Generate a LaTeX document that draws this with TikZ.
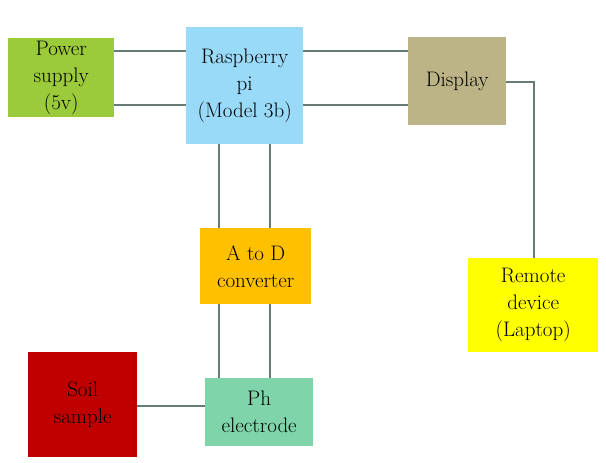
\documentclass[tikz,border=0pt]{standalone}
\usepackage{tikz}
\definecolor{cpower}{HTML}{9BCB3B}
\definecolor{crasp}{HTML}{99DAF9}
\definecolor{cdisp}{HTML}{BCB486}
\definecolor{cadc}{HTML}{FFC000}
\definecolor{cremote}{HTML}{FFFF00}
\definecolor{csoil}{HTML}{C00000}
\definecolor{cph}{HTML}{7FD5A9}
\definecolor{cline}{HTML}{667A76}
\tikzset{
  blk/.style={fill=#1, draw=none, inner sep=0pt, align=center, anchor=north west,
    font=\fontsize{21}{27}\selectfont},
  conn/.style={draw=cline, line width=1.4pt}
}
\begin{document}
\begin{tikzpicture}[x=1pt,y=-1pt]
\useasboundingbox (0,0) rectangle (606,463);
\node[blk=cpower, minimum width=106pt, minimum height=79pt] (pw) at (8,38) {Power\\supply\\(5v)};
\node[blk=crasp, minimum width=117pt, minimum height=117pt] (rp) at (186,27) {Raspberry\\pi\\(Model 3b)};
\node[blk=cdisp, minimum width=98pt, minimum height=88pt] (dp) at (408,37) {Display};
\node[blk=cadc, minimum width=111pt, minimum height=76pt] (ad) at (200,228) {A to D\\converter};
\node[blk=cremote, minimum width=130pt, minimum height=94pt] (rm) at (468,258) {Remote\\device\\(Laptop)};
\node[blk=csoil, minimum width=109pt, minimum height=105pt] (sl) at (28,352) {Soil\\sample};
\node[blk=cph, minimum width=108pt, minimum height=68pt] (ph) at (205,378) {Ph\\electrode};
\coordinate (ya) at (0,51);
\coordinate (yb) at (0,105);
\coordinate (xa) at (219,0);
\coordinate (xb) at (270,0);
\coordinate (ys) at (0,406);
\coordinate (yd) at (0,82);
\coordinate (xr) at (534,0);
\draw[conn] (pw.east |- ya) -- (rp.west |- ya);
\draw[conn] (pw.east |- yb) -- (rp.west |- yb);
\draw[conn] (rp.east |- ya) -- (dp.west |- ya);
\draw[conn] (rp.east |- yb) -- (dp.west |- yb);
\draw[conn] (rp.south -| xa) -- (ad.north -| xa);
\draw[conn] (rp.south -| xb) -- (ad.north -| xb);
\draw[conn] (ad.south -| xa) -- (ph.north -| xa);
\draw[conn] (ad.south -| xb) -- (ph.north -| xb);
\draw[conn] (sl.east |- ys) -- (ph.west |- ys);
\draw[conn] (dp.east |- yd) -| (rm.north -| xr);
\end{tikzpicture}
\end{document}
